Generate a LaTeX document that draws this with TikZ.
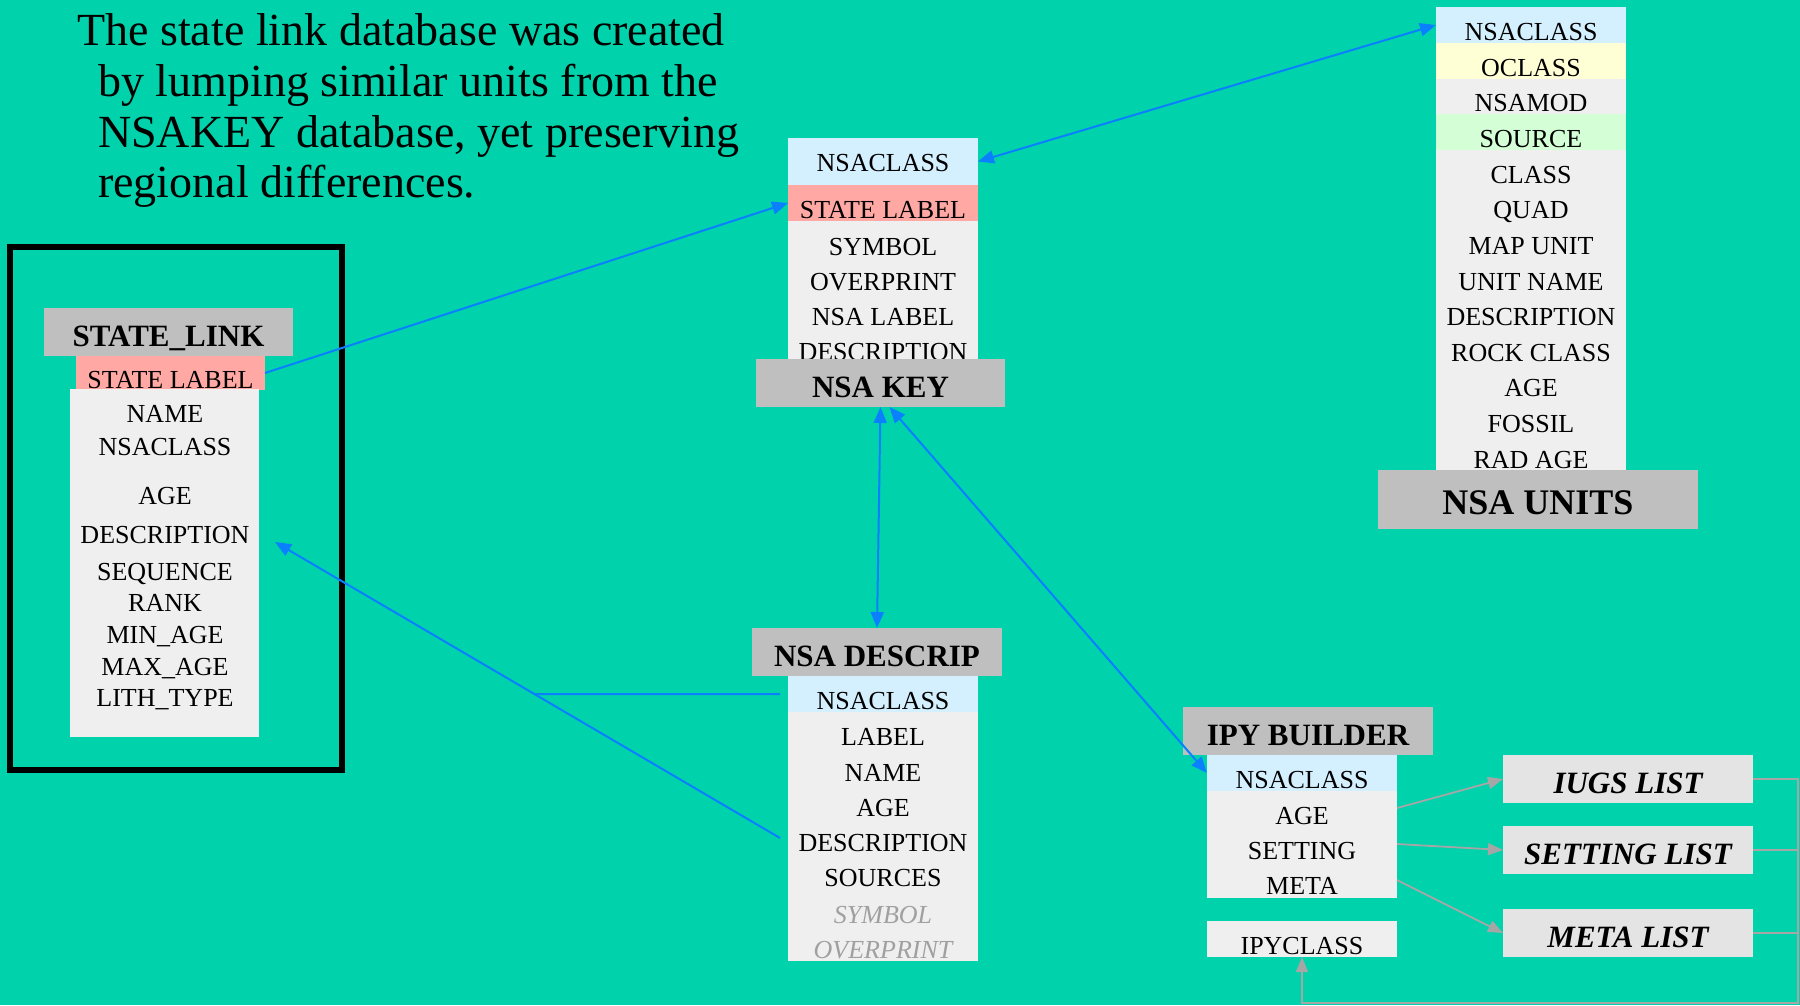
\documentclass[tikz,border=0pt]{standalone}
\usepackage{fontspec}
\setmainfont{Liberation Serif}
\usepackage{tikz}
\usetikzlibrary{arrows.meta, calc}
\definecolor{slide}{HTML}{00D2AC}
\definecolor{hdrgray}{HTML}{BFBFBF}
\definecolor{rowgray}{HTML}{EFEFEF}
\definecolor{lstgray}{HTML}{E4E4E4}
\definecolor{keyblue}{HTML}{D4F0FF}
\definecolor{keypink}{HTML}{FFA8A4}
\definecolor{keyyellow}{HTML}{FFFFD6}
\definecolor{keygreen}{HTML}{D4FFD6}
\definecolor{linkblue}{HTML}{0A80FF}
\definecolor{feedgray}{HTML}{A6A6A6}
\definecolor{fadetext}{HTML}{A0A0A0}

\begin{document}
\begin{tikzpicture}[x=1pt, y=-1pt,
  tbl/.style={fill=rowgray, inner sep=0pt, outer sep=0pt, minimum width=190pt},
  hdr/.style={fill=hdrgray, inner sep=0pt, outer sep=0pt, minimum width=250pt,
    minimum height=48pt, font=\fontsize{31}{31}\selectfont\bfseries,
    text height=28.5pt, text depth=0pt},
  band/.style={inner sep=0pt, outer sep=0pt, minimum width=190pt, minimum height=36pt,
    font=\fontsize{26}{26}\selectfont, text height=31pt, text depth=0pt},
  fld/.style={inner sep=0pt, outer sep=0pt, font=\fontsize{26}{26}\selectfont,
    text height=17.2pt, text depth=0pt},
  fade/.style={fld, text=fadetext, font=\fontsize{26}{26}\selectfont\itshape},
  lst/.style={hdr, fill=lstgray, font=\fontsize{31}{31}\selectfont\bfseries\itshape},
  link/.style={-{Triangle[length=16pt, width=13pt]}, line width=2pt, color=linkblue},
  both/.style={link, {Triangle[length=16pt, width=13pt]}-{Triangle[length=16pt, width=13pt]}},
  feed/.style={-{Triangle[length=15pt, width=12pt]}, line width=1.8pt, color=feedgray}
]
  \useasboundingbox (0,0) rectangle (1800,1005);
  \fill[slide] (0,0) rectangle (1800,1005);

  % Caption
  \node[anchor=north west, inner sep=0pt, align=left, font=\fontsize{46}{50.7}\selectfont]
    (blurb) at (77,13.6) {The state link database was created\\
    \hspace*{21pt}by lumping similar units from the\\
    \hspace*{21pt}NSAKEY database, yet preserving\\
    \hspace*{21pt}regional differences.};

  % STATE_LINK
  \node[draw=black, line width=6pt, inner sep=0pt, minimum width=332pt, minimum height=523pt]
    (slframe) at (176,508.5) {};
  \node[hdr, minimum width=249pt] (slhead) at (168.5,332) {STATE\_LINK};
  \node[band, fill=keypink, minimum width=189pt, minimum height=34pt] (sllabel) at (170.5,373) {STATE LABEL};
  \node[tbl, minimum width=189pt, minimum height=348pt] (slbody) at (164.5,563) {};
  \node[fld] (slname) at (165,414) {NAME};
  \node[fld] (slcls)  at (165,447) {NSACLASS};
  \node[fld] (slage)  at (165,496) {AGE};
  \node[fld] (sldesc) at (165,535) {DESCRIPTION};
  \node[fld] (slseq)  at (165,572) {SEQUENCE};
  \node[fld] (slrank) at (165,603) {RANK};
  \node[fld] (slmin)  at (165,635) {MIN\_AGE};
  \node[fld] (slmax)  at (165,667) {MAX\_AGE};
  \node[fld] (sllith) at (165,698) {LITH\_TYPE};

  % NSA KEY
  \node[band, fill=keyblue, minimum height=47pt, text height=20pt] (keycls) at (883,161.5) {NSACLASS};
  \node[band, fill=keypink] (keylbl) at (883,203) {STATE LABEL};
  \node[tbl, minimum height=142pt] (keybody) at (883,292) {};
  \node[fld] (keysym)  at (883,247) {SYMBOL};
  \node[fld] (keyover) at (883,282) {OVERPRINT};
  \node[fld] (keynsa)  at (883,317) {NSA LABEL};
  \node[fld] (keydesc) at (883,352) {DESCRIPTION};
  \node[hdr, minimum width=249pt] (keyhead) at (880.5,383) {NSA KEY};

  % NSA DESCRIP
  \node[hdr] (deshead) at (877,652) {NSA DESCRIP};
  \node[tbl, minimum height=285pt] (desbody) at (883,818.5) {};
  \node[band, fill=keyblue] (descls) at (883,694) {NSACLASS};
  \node[fld] (deslbl)  at (883,737) {LABEL};
  \node[fld] (desname) at (883,773) {NAME};
  \node[fld] (desage)  at (883,808) {AGE};
  \node[fld] (desdesc) at (883,843) {DESCRIPTION};
  \node[fld] (dessrc)  at (883,878) {SOURCES};
  \node[fade] (dessym)  at (883,915) {SYMBOL};
  \node[fade] (desover) at (883,950) {OVERPRINT};

  % NSA UNITS
  \node[tbl, minimum height=463pt] (unitbody) at (1531,238.5) {};
  \node[band, fill=keyblue]   (unitcls) at (1531,25)   {NSACLASS};
  \node[band, fill=keyyellow] (unitocl) at (1531,60.5) {OCLASS};
  \node[fld]                  (unitmod) at (1531,103)  {NSAMOD};
  \node[band, fill=keygreen]  (unitsrc) at (1531,132)  {SOURCE};
  \node[fld] (unitclass) at (1531,175) {CLASS};
  \node[fld] (unitquad)  at (1531,210) {QUAD};
  \node[fld] (unitmap)   at (1531,246) {MAP UNIT};
  \node[fld] (unitname)  at (1531,282) {UNIT NAME};
  \node[fld] (unitdesc)  at (1531,317) {DESCRIPTION};
  \node[fld] (unitrock)  at (1531,353) {ROCK CLASS};
  \node[fld] (unitage)   at (1531,388) {AGE};
  \node[fld] (unitfos)   at (1531,424) {FOSSIL};
  \node[fld] (unitrad)   at (1531,460) {RAD AGE};
  \node[hdr, minimum width=320pt, minimum height=59pt, font=\fontsize{36}{36}\selectfont\bfseries,
    text height=30.8pt] (unithead) at (1538,499.5) {NSA UNITS};

  % IPY BUILDER
  \node[hdr] (ipyhead) at (1308,731) {IPY BUILDER};
  \node[tbl, minimum height=143pt] (ipybody) at (1302,826.5) {};
  \node[band, fill=keyblue] (ipycls) at (1302,773) {NSACLASS};
  \node[fld] (ipyage)  at (1302,816) {AGE};
  \node[fld] (ipyset)  at (1302,851) {SETTING};
  \node[fld] (ipymeta) at (1302,886) {META};
  \node[band, fill=rowgray] (ipyclass) at (1302,939) {IPYCLASS};

  \node[lst] (iugs)     at (1628,779) {IUGS LIST};
  \node[lst] (setlist)  at (1628,850) {SETTING LIST};
  \node[lst] (metalist) at (1628,933) {META LIST};

  % Links
  \coordinate (dstart) at ([xshift=-8pt, yshift=5pt]desdesc -| desbody.west);
  \coordinate (slend)  at ($(sldesc -| slbody.east)+(16,7)$);
  \coordinate (j)      at ($(dstart)!0.4865!(slend)$);
  \coordinate (rail)   at (1798,1003);

  \draw[link] (sllabel.east) -- (keylbl.west);
  \draw[both] (keycls.east) -- (unitcls.west);
  \draw[both] (keyhead.south) -- (deshead.north);
  \draw[both] ([xshift=9pt]keyhead.south) -- (ipycls.west);
  \draw[link] (dstart) -- (slend);
  \draw[link, -] (descls.west -| dstart) -- (j);

  \draw[feed] ([yshift=8pt]ipyage -| ipybody.east) -- (iugs.west);
  \draw[feed] ([yshift=7pt]ipyset -| ipybody.east) -- (setlist.west);
  \draw[feed] ([yshift=6pt]ipymeta -| ipybody.east) -- (metalist.west);
  \draw[feed] (iugs.east) -| (rail) -| (ipyclass.south);
  \draw[feed, -] (setlist.east) -- (setlist.east -| rail);
  \draw[feed, -] (metalist.east) -- (metalist.east -| rail);
\end{tikzpicture}
\end{document}
